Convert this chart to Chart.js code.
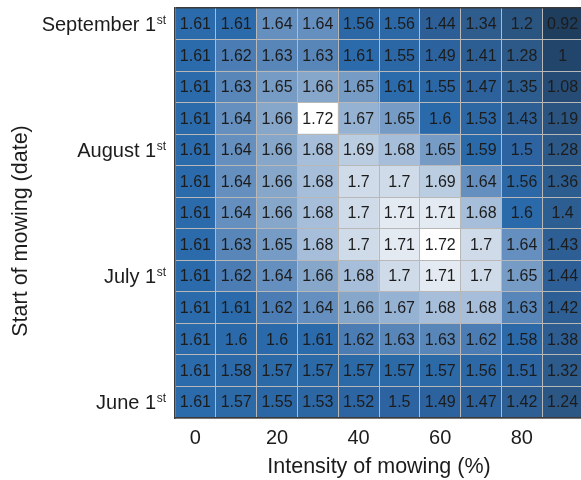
<!DOCTYPE html>
<html>
<head>
<meta charset="utf-8">
<script src="https://cdn.jsdelivr.net/npm/chart.js@4/dist/chart.umd.min.js"></script>
<style>
  html, body { margin: 0; padding: 0; background: #fff; overflow: hidden; width: 581px; height: 480px; }
  canvas { display: block; }
</style>
</head>
<body>
<canvas id="heat" width="584" height="480"></canvas>
<script>
// Mowing intensity (%) on the x axis, one column each
const intensities = ['0', '10', '20', '30', '40', '50', '60', '70', '80', '90'];
const intensityTickLabels = ['0', '', '20', '', '40', '', '60', '', '80', ''];

// Start-of-mowing dates: row index (0 = bottom) that carries a label
const dateTickRows = [0, 4, 8, 12];
const dateTickLabels = ['June 1', 'July 1', 'August 1', 'September 1'];
const dateTickSuffix = ['st', 'st', 'st', 'st'];

// Values per start date, bottom row (June 1st) first, top row (September 1st) last
const row00 = [1.61, 1.57, 1.55, 1.53, 1.52, 1.5, 1.49, 1.47, 1.42, 1.24];
const row01 = [1.61, 1.58, 1.57, 1.57, 1.57, 1.57, 1.57, 1.56, 1.51, 1.32];
const row02 = [1.61, 1.6, 1.6, 1.61, 1.62, 1.63, 1.63, 1.62, 1.58, 1.38];
const row03 = [1.61, 1.61, 1.62, 1.64, 1.66, 1.67, 1.68, 1.68, 1.63, 1.42];
const row04 = [1.61, 1.62, 1.64, 1.66, 1.68, 1.7, 1.71, 1.7, 1.65, 1.44];
const row05 = [1.61, 1.63, 1.65, 1.68, 1.7, 1.71, 1.72, 1.7, 1.64, 1.43];
const row06 = [1.61, 1.64, 1.66, 1.68, 1.7, 1.71, 1.71, 1.68, 1.6, 1.4];
const row07 = [1.61, 1.64, 1.66, 1.68, 1.7, 1.7, 1.69, 1.64, 1.56, 1.36];
const row08 = [1.61, 1.64, 1.66, 1.68, 1.69, 1.68, 1.65, 1.59, 1.5, 1.28];
const row09 = [1.61, 1.64, 1.66, 1.72, 1.67, 1.65, 1.6, 1.53, 1.43, 1.19];
const row10 = [1.61, 1.63, 1.65, 1.66, 1.65, 1.61, 1.55, 1.47, 1.35, 1.08];
const row11 = [1.61, 1.62, 1.63, 1.63, 1.61, 1.55, 1.49, 1.41, 1.28, 1];
const row12 = [1.61, 1.61, 1.64, 1.64, 1.56, 1.56, 1.44, 1.34, 1.2, 0.92];
const rows = [row00, row01, row02, row03, row04, row05, row06, row07, row08, row09, row10, row11, row12];

// Colour scale: dark slate for low values, strong blue near 1.6, white at the top
const colorStops = [
  [0.92, [31, 61, 92]],
  [1.0,  [34, 69, 107]],
  [1.2,  [43, 85, 129]],
  [1.35, [45, 92, 142]],
  [1.44, [45, 95, 150]],
  [1.5,  [44, 99, 160]],
  [1.56, [44, 104, 166]],
  [1.61, [43, 107, 171]],
  [1.62, [75, 125, 180]],
  [1.64, [101, 143, 190]],
  [1.66, [134, 166, 202]],
  [1.68, [166, 190, 217]],
  [1.70, [207, 219, 232]],
  [1.71, [227, 234, 242]],
  [1.72, [255, 255, 255]]
];

function colorFor(v) {
  if (v <= colorStops[0][0]) return 'rgb(' + colorStops[0][1].join(',') + ')';
  for (let i = 1; i < colorStops.length; i++) {
    const [v1, c1] = colorStops[i];
    const [v0, c0] = colorStops[i - 1];
    if (v <= v1) {
      const t = (v - v0) / (v1 - v0);
      const c = c0.map((a, k) => Math.round(a + (c1[k] - a) * t));
      return 'rgb(' + c.join(',') + ')';
    }
  }
  return 'rgb(' + colorStops[colorStops.length - 1][1].join(',') + ')';
}

const FONT = "'Liberation Sans', Arial, Helvetica, sans-serif";
const TEXT = '#1c1c1c';

// One floating-bar dataset per row: each cell spans [row, row + 1]
const datasets = rows.map((vals, r) => ({
  label: 'row ' + r,
  data: vals.map(() => [r, r + 1]),
  values: vals,
  backgroundColor: vals.map(colorFor),
  borderWidth: 0,
  barPercentage: 1,
  categoryPercentage: 1,
  grouped: false
}));

// Cell value labels
const cellLabels = {
  id: 'cellLabels',
  afterDatasetsDraw(chart) {
    const ctx = chart.ctx;
    ctx.save();
    ctx.font = '16px ' + FONT;
    ctx.fillStyle = TEXT;
    ctx.textAlign = 'center';
    ctx.textBaseline = 'middle';
    chart.data.datasets.forEach((ds, di) => {
      const meta = chart.getDatasetMeta(di);
      meta.data.forEach((el, i) => {
        const cy = (el.y + el.base) / 2;
        ctx.fillText(String(ds.values[i]), el.x, cy + 1);
      });
    });
    ctx.restore();
  }
};

// Date labels with superscript ordinal suffix, plus the vertical axis title
const dateAxis = {
  id: 'dateAxis',
  afterDraw(chart) {
    const ctx = chart.ctx;
    const y = chart.scales.y;
    const right = 166;
    ctx.save();
    ctx.fillStyle = TEXT;
    ctx.textAlign = 'right';
    ctx.textBaseline = 'alphabetic';
    dateTickRows.forEach((r, i) => {
      const cy = y.getPixelForValue(r + 0.5);
      const base = cy + 7;
      ctx.font = '12px ' + FONT;
      const sw = ctx.measureText(dateTickSuffix[i]).width;
      ctx.fillText(dateTickSuffix[i], right, base - 7);
      ctx.font = '20px ' + FONT;
      ctx.fillText(dateTickLabels[i], right - sw - 0.5, base);
    });
    ctx.translate(21, 231);
    ctx.rotate(-Math.PI / 2);
    ctx.textAlign = 'center';
    ctx.textBaseline = 'middle';
    ctx.font = '21.5px ' + FONT;
    ctx.fillText('Start of mowing (date)', 0, 0);
    ctx.restore();
  }
};

new Chart(document.getElementById('heat'), {
  type: 'bar',
  data: { labels: intensities, datasets: datasets },
  options: {
    responsive: false,
    animation: false,
    devicePixelRatio: 1,
    layout: { padding: { top: 8, right: 1, left: 0, bottom: 0 } },
    plugins: { legend: { display: false }, tooltip: { enabled: false } },
    scales: {
      x: {
        type: 'category',
        offset: true,
        grid: { offset: true, color: '#b8b8b8', lineWidth: 1, drawTicks: false, z: 1 },
        border: { display: true, color: '#3a3a3a', width: 1.5, z: 2 },
        ticks: {
          autoSkip: false,
          maxRotation: 0,
          padding: 8,
          color: TEXT,
          font: { family: FONT, size: 20 },
          callback: (v, i) => intensityTickLabels[i]
        },
        title: {
          display: true,
          text: 'Intensity of mowing (%)',
          color: TEXT,
          font: { family: FONT, size: 21.5 },
          padding: { top: 0, bottom: 0 }
        },
        afterFit(scale) { scale.height = 62; }
      },
      y: {
        type: 'linear',
        min: 0,
        max: 13,
        grid: {
          color: (c) => (c.tick && c.tick.value === 13 ? '#3a3a3a' : '#b8b8b8'),
          lineWidth: (c) => (c.tick && c.tick.value === 13 ? 1.5 : 1),
          drawTicks: false,
          z: 1
        },
        border: { display: true, color: '#3a3a3a', width: 1.5, z: 2 },
        ticks: { stepSize: 1, display: false },
        afterFit(scale) { scale.width = 175; }
      }
    }
  },
  plugins: [cellLabels, dateAxis]
});
</script>
</body>
</html>
